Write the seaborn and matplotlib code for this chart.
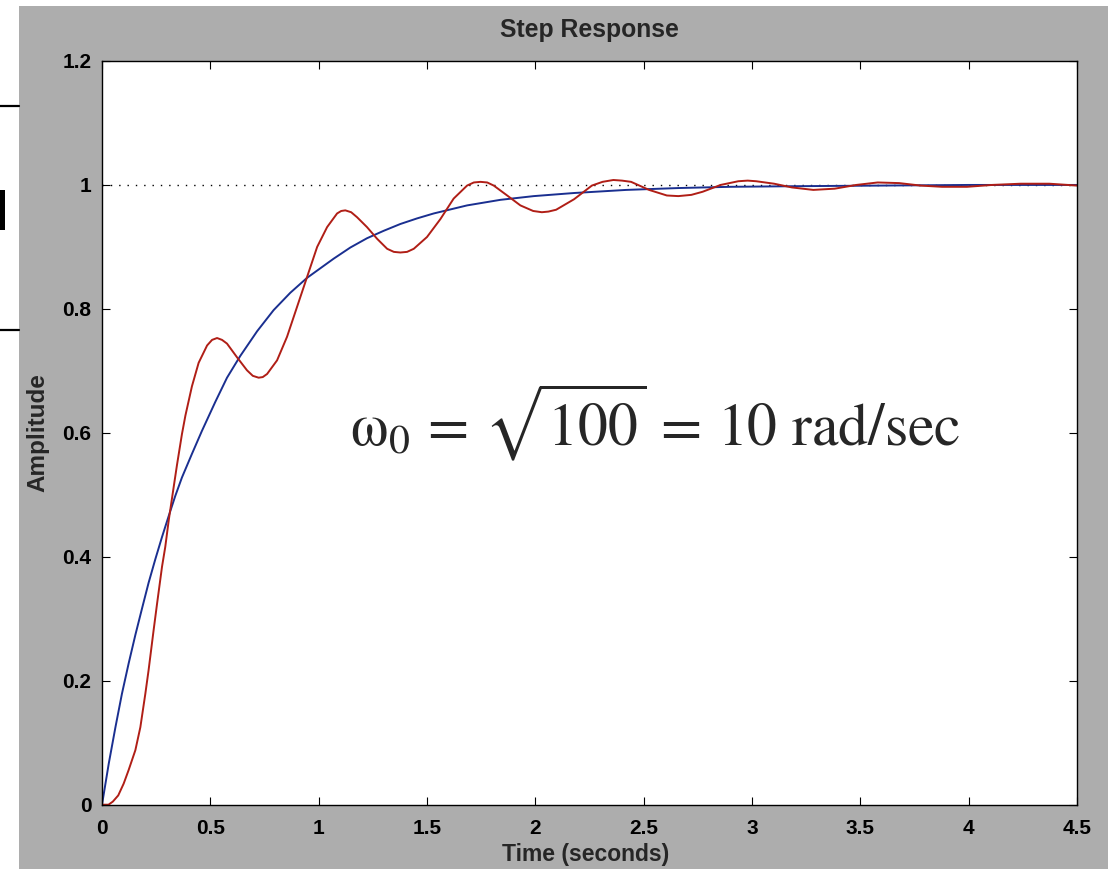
import numpy as np
import matplotlib
matplotlib.use("Agg")
import matplotlib.pyplot as plt
from matplotlib.patches import Rectangle
from matplotlib.lines import Line2D
import seaborn as sns

# values (time in seconds, amplitude)
t_red = [0.0, 0.03, 0.05, 0.075, 0.1, 0.123, 0.154, 0.177, 0.2, 0.215, 0.238, 0.254,
         0.277, 0.292, 0.308, 0.331, 0.346, 0.369, 0.385, 0.415, 0.446, 0.485, 0.508,
         0.531, 0.554, 0.577, 0.623, 0.669, 0.696, 0.723, 0.742, 0.762, 0.808, 0.854,
         0.9, 0.946, 0.993, 1.039, 1.085, 1.104, 1.123, 1.15, 1.177, 1.223, 1.27,
         1.316, 1.347, 1.377, 1.408, 1.439, 1.5, 1.562, 1.623, 1.685, 1.716, 1.747,
         1.778, 1.808, 1.87, 1.931, 1.99, 2.03, 2.06, 2.096, 2.179, 2.261, 2.31, 2.36,
         2.4, 2.442, 2.525, 2.607, 2.66, 2.72, 2.772, 2.855, 2.937, 2.98, 3.019, 3.102,
         3.184, 3.283, 3.382, 3.481, 3.58, 3.679, 3.778, 3.877, 3.992, 4.108, 4.24,
         4.372, 4.5]
y_red = [0.0, 0.0, 0.005, 0.015, 0.034, 0.056, 0.088, 0.125, 0.179, 0.217, 0.281, 0.324,
         0.384, 0.416, 0.459, 0.513, 0.548, 0.598, 0.628, 0.675, 0.713, 0.741, 0.75,
         0.753, 0.75, 0.744, 0.722, 0.701, 0.692, 0.689, 0.69, 0.695, 0.717, 0.755,
         0.803, 0.851, 0.9, 0.932, 0.954, 0.958, 0.959, 0.956, 0.948, 0.932, 0.913,
         0.897, 0.892, 0.891, 0.892, 0.897, 0.916, 0.945, 0.978, 0.999, 1.004, 1.005,
         1.004, 0.999, 0.983, 0.967, 0.958, 0.956, 0.957, 0.96, 0.977, 0.999, 1.005, 1.008,
         1.007, 1.005, 0.992, 0.983, 0.982, 0.984, 0.989, 1.0, 1.006, 1.007, 1.006, 1.002,
         0.996, 0.992, 0.994, 1.0, 1.004, 1.003, 0.999, 0.997, 0.997, 1.0, 1.002,
         1.002, 0.999]

t_blue = [0.0, 0.031, 0.062, 0.092, 0.123, 0.154, 0.185, 0.215, 0.246, 0.277, 0.308,
          0.338, 0.369, 0.415, 0.461, 0.523, 0.577, 0.638, 0.716, 0.792, 0.869, 0.946,
          1.069, 1.146, 1.223, 1.3, 1.377, 1.454, 1.531, 1.685, 1.839, 1.993, 2.179,
          2.42, 2.66, 2.9, 3.2, 3.6, 4.0, 4.5]
y_blue = [0.0, 0.066, 0.125, 0.179, 0.228, 0.274, 0.317, 0.358, 0.396, 0.432, 0.466,
          0.498, 0.528, 0.566, 0.603, 0.65, 0.689, 0.724, 0.764, 0.798, 0.826, 0.85,
          0.881, 0.899, 0.914, 0.926, 0.937, 0.946, 0.954, 0.967, 0.976, 0.982, 0.987,
          0.992, 0.995, 0.997, 0.998, 0.999, 1.0, 1.0]

final_value = 1.0
x_ticks = [0, 0.5, 1, 1.5, 2, 2.5, 3, 3.5, 4, 4.5]
x_labels = ["0", "0.5", "1", "1.5", "2", "2.5", "3", "3.5", "4", "4.5"]
y_ticks = [0, 0.2, 0.4, 0.6, 0.8, 1.0, 1.2]
y_labels = ["0", "0.2", "0.4", "0.6", "0.8", "1", "1.2"]

sns.set_style("ticks")
plt.rcParams['font.family'] = ['Liberation Sans', 'DejaVu Sans']

W, H = 1108, 869
fig = plt.figure(figsize=(W / 100, H / 100), dpi=100, facecolor='white')

# grey matlab-style figure background
fig.patches.append(Rectangle((19 / W, 0), 1 - 19 / W, 1 - 6 / H, transform=fig.transFigure,
                             facecolor='#adadad', edgecolor='none', zorder=-10))
# bits of the slide left of the figure
for yy in [106, 330]:
    fig.lines.append(Line2D([0, 19 / W], [1 - yy / H] * 2, transform=fig.transFigure,
                            color='black', lw=1.6, zorder=-5))
fig.patches.append(Rectangle((0, 1 - 230 / H), 5 / W, 40 / H, transform=fig.transFigure,
                             facecolor='black', edgecolor='none', zorder=-5))

ax = fig.add_axes([102 / W, 1 - 804.7 / H, (1077 - 102) / W, (804.7 - 61) / H])
ax.set_zorder(1)
ax.set_facecolor('white')

ax.axhline(final_value, color='black', ls=(0, (1, 5)), lw=1.0)
sns.lineplot(x=t_blue, y=y_blue, ax=ax, color='#1a2f90', linewidth=1.4, sort=False)
sns.lineplot(x=t_red, y=y_red, ax=ax, color='#b01e16', linewidth=1.4, sort=False)

ax.set_xlim(0, 4.5)
ax.set_ylim(0, 1.2)
ax.set_xticks(x_ticks)
ax.set_xticklabels(x_labels)
ax.set_yticks(y_ticks)
ax.set_yticklabels(y_labels)
ax.tick_params(direction='in', length=6, width=0.8, top=True, right=True,
               labelsize=15, colors='black')
ax.tick_params(axis='x', pad=10)
ax.tick_params(axis='y', pad=7.5)
for lab in ax.get_xticklabels() + ax.get_yticklabels():
    lab.set_fontweight('bold')
for s in ax.spines.values():
    s.set_visible(True)
    s.set_linewidth(1.0)
    s.set_color('black')

ax.set_title("Step Response", fontsize=17.8, fontweight='bold', pad=17)
ax.set_xlabel("Time (seconds)", fontsize=16.5, fontweight='bold', va='top')
ax.xaxis.set_label_coords(0.4964, -0.0515)
ax.set_ylabel("Amplitude", fontsize=17.5, fontweight='bold', va='center')
ax.yaxis.set_label_coords(-0.0653, 0.5)

ax.text(0.2544, 0.4837, r"$\mathrm{\omega}_0\,=\,\sqrt{100}\,=\,10\ \mathrm{rad/sec}$",
        transform=ax.transAxes, fontsize=43, math_fontfamily='stix', va='baseline')

fig.savefig('out.png', dpi=100)
